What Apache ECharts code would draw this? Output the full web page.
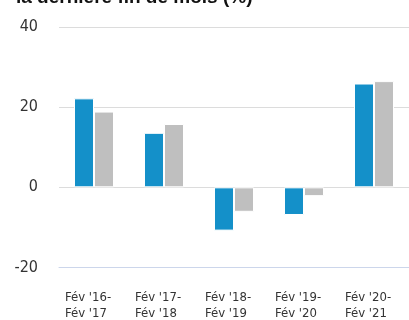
<!DOCTYPE html>
<html>
<head>
<meta charset="utf-8">
<script src="https://cdn.jsdelivr.net/npm/echarts@6/dist/echarts.min.js"></script>
<style>
  html, body { margin: 0; padding: 0; background: #fff; }
  #chart { width: 409px; height: 320px; }
</style>
</head>
<body>
<div id="chart"></div>
<script>
// Period labels (two lines each) and the two return series, in %
const periodsStart = ["Fév '16-", "Fév '17-", "Fév '18-", "Fév '19-", "Fév '20-"];
const periodsEnd = ["Fév '17", "Fév '18", "Fév '19", "Fév '20", "Fév '21"];
const seriesA = [22.2, 13.6, -10.8, -6.9, 25.9];
const seriesB = [18.9, 15.8, -6.1, -2.2, 26.5];
const yTicks = [-20, 0, 20, 40];

const categories = periodsStart.map((s, i) => s + '\n' + periodsEnd[i]);
const labelFont = '"DejaVu Sans Condensed", "Liberation Sans Narrow", sans-serif';

const chart = echarts.init(document.getElementById('chart'), null, { renderer: 'canvas' });
chart.setOption({
  animation: false,
  title: {
    text: 'la dernière fin de mois (%)',
    left: 11,
    top: -17,
    textStyle: {
      fontFamily: '"Liberation Sans", Arial, sans-serif',
      fontWeight: 'bold',
      fontSize: 19,
      color: '#111'
    }
  },
  grid: { left: 59, right: -4, top: 27, bottom: 50, containLabel: false },
  xAxis: {
    type: 'category',
    data: categories,
    axisLine: { show: true, onZero: false, lineStyle: { color: '#ccd6eb', width: 1 } },
    axisTick: { show: false },
    axisLabel: {
      margin: 22,
      interval: 0,
      formatter: (v) => v.split('\n').map(l => '{t|' + l + '}').join('\n'),
      rich: {
        t: {
          width: 58,
          align: 'left',
          fontFamily: labelFont,
          fontSize: 13,
          lineHeight: 16,
          color: '#333'
        }
      }
    }
  },
  yAxis: {
    type: 'value',
    min: yTicks[0],
    max: yTicks[yTicks.length - 1],
    interval: 20,
    axisLine: { show: false },
    axisTick: { show: false },
    // bottom line (the baseline of the category axis) keeps its blue-grey tint
    splitLine: { lineStyle: { color: ['#ccd6eb', '#dcdcdc', '#dcdcdc', '#dcdcdc'], width: 1 } },
    axisLabel: {
      margin: 21,
      fontFamily: labelFont,
      fontSize: 16,
      color: '#333'
    }
  },
  series: [
    {
      type: 'bar',
      data: seriesA,
      barWidth: 20,
      barGap: '0%',
      itemStyle: { color: '#1490c9', borderColor: '#ffffff', borderWidth: 1 }
    },
    {
      type: 'bar',
      data: seriesB,
      barWidth: 20,
      itemStyle: { color: '#bfbfbf', borderColor: '#ffffff', borderWidth: 1 }
    }
  ]
});
</script>
</body>
</html>
